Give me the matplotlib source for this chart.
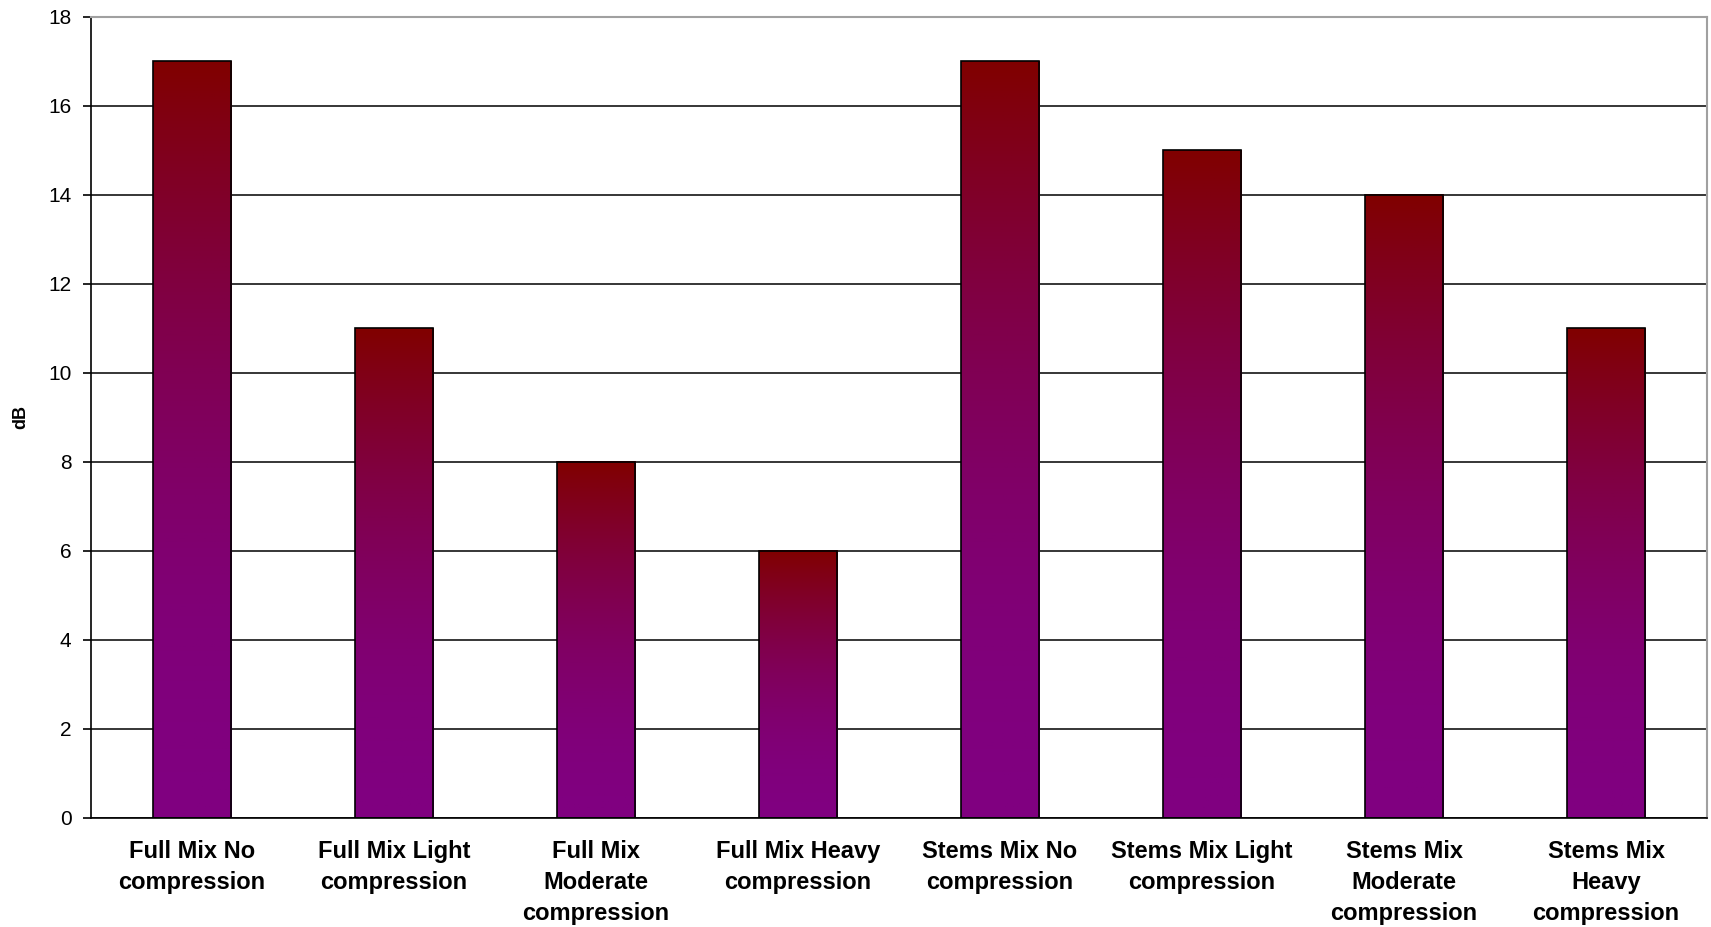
import numpy as np
import matplotlib.pyplot as plt
from matplotlib.colors import LinearSegmentedColormap

categories = ["Full Mix No\ncompression", "Full Mix Light\ncompression",
              "Full Mix\nModerate\ncompression", "Full Mix Heavy\ncompression",
              "Stems Mix No\ncompression", "Stems Mix Light\ncompression",
              "Stems Mix\nModerate\ncompression", "Stems Mix\nHeavy\ncompression"]
values = [17, 11, 8, 6, 17, 15, 14, 11]

plt.rcParams['font.family'] = ['Liberation Sans', 'DejaVu Sans']

fig = plt.figure(figsize=(17.11, 9.27), dpi=100)
ax = fig.add_axes([0.0532, 0.1176, 0.9445, 0.8641])

# red at the top of each bar, easing into purple towards the base
cmap = LinearSegmentedColormap.from_list('redpurple', ['#800080', '#800000'])
grad = (np.linspace(0, 1, 256) ** 2).reshape(-1, 1)

width = 0.39
x = np.arange(len(values))
for xi, v in zip(x, values):
    ax.imshow(grad, cmap=cmap, origin='lower', aspect='auto', vmin=0, vmax=1,
              extent=(xi - width/2, xi + width/2, 0, v), zorder=2)
ax.bar(x, values, width=width, facecolor='none', edgecolor='black',
       linewidth=1.2, zorder=3)

ax.set_xlim(-0.5, len(values) - 0.5)
ax.set_ylim(0, 18)
ax.set_yticks(range(0, 19, 2))
ax.set_xticks(x)
ax.set_xticklabels(categories, fontsize=17, fontweight='bold', linespacing=1.45)
ax.tick_params(axis='x', length=0, pad=16)
ax.tick_params(axis='y', labelsize=15, length=6, width=1.2, pad=8)
ax.set_ylabel('dB', fontsize=13, fontweight='bold', labelpad=14)

ax.set_axisbelow(True)
ax.yaxis.grid(True, color='black', linewidth=1.1)
for side in ['top', 'right']:
    ax.spines[side].set_color('#a0a0a0')
    ax.spines[side].set_linewidth(1.5)
for side in ['left', 'bottom']:
    ax.spines[side].set_color('black')
    ax.spines[side].set_linewidth(1.2)

fig.savefig('out.png', dpi=100)
